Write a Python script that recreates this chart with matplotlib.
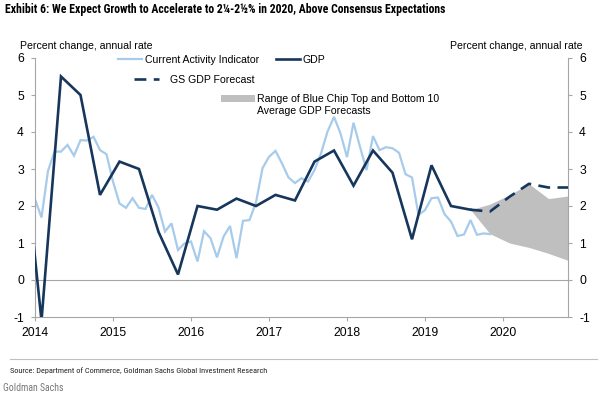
import matplotlib
matplotlib.use("Agg")
import matplotlib.pyplot as plt
from matplotlib.lines import Line2D
from matplotlib.patches import Patch
from matplotlib import font_manager
from matplotlib.font_manager import FontProperties

# ---------------- data ----------------
cai_start = (2014, 1)  # first month of Current Activity Indicator
cai_values = [
    2.18, 1.69, 2.95, 3.47, 3.47, 3.65, 3.36, 3.78, 3.77, 3.87, 3.51, 3.40,   # 2014
    2.66, 2.07, 1.95, 2.21, 1.95, 1.92, 2.30, 1.96, 1.31, 1.53, 0.81, 0.99,   # 2015
    1.04, 0.50, 1.32, 1.13, 0.61, 1.17, 1.46, 0.59, 1.60, 1.62, 2.10, 3.02,   # 2016
    3.33, 3.49, 3.15, 2.77, 2.62, 2.75, 2.66, 2.97, 3.42, 4.01, 4.41, 3.96,   # 2017
    3.32, 4.25, 3.60, 2.97, 3.89, 3.51, 3.59, 3.56, 3.44, 2.86, 2.77, 1.76,   # 2018
    1.89, 2.21, 2.23, 1.78, 1.58, 1.19, 1.23, 1.62, 1.22, 1.26, 1.24,         # 2019
]

gdp_quarters = ["2013Q4",
                "2014Q1", "2014Q2", "2014Q3", "2014Q4",
                "2015Q1", "2015Q2", "2015Q3", "2015Q4",
                "2016Q1", "2016Q2", "2016Q3", "2016Q4",
                "2017Q1", "2017Q2", "2017Q3", "2017Q4",
                "2018Q1", "2018Q2", "2018Q3", "2018Q4",
                "2019Q1", "2019Q2", "2019Q3"]
gdp_values = [4.0,
              -1.1, 5.5, 5.0, 2.3,
              3.2, 3.0, 1.3, 0.15,
              2.0, 1.9, 2.2, 2.0,
              2.3, 2.15, 3.2, 3.5,
              2.55, 3.5, 2.9, 1.1,
              3.1, 2.0, 1.9]

fc_quarters = ["2019Q3", "2019Q4", "2020Q1", "2020Q2", "2020Q3", "2020Q4"]
gs_forecast = [1.9, 1.85, 2.25, 2.6, 2.5, 2.5]
bluechip_top = [1.9, 2.05, 2.3, 2.6, 2.2, 2.27]
bluechip_bottom = [1.9, 1.25, 1.0, 0.88, 0.72, 0.53]

year_ticks = [2014, 2015, 2016, 2017, 2018, 2019, 2020]
y_ticks = [-1, 0, 1, 2, 3, 4, 5, 6]

title = "Exhibit 6: We Expect Growth to Accelerate to 2\u00bc-2\u00bd% in 2020, Above Consensus Expectations"
source = "Source: Department of Commerce, Goldman Sachs Global Investment Research"


# ---------------- helpers ----------------
def month_pos(year, month):
    return year + (month - 1) / 12.0


def quarter_pos(q):
    y, qq = int(q[:4]), int(q[-1])
    return month_pos(y, 3 * qq - 1)  # middle month of quarter


cai_x = []
y0, m0 = cai_start
for i in range(len(cai_values)):
    m = m0 - 1 + i
    cai_x.append(month_pos(y0 + m // 12, m % 12 + 1))
gdp_x = [quarter_pos(q) for q in gdp_quarters]
fc_x = [quarter_pos(q) for q in fc_quarters]

# ---------------- fonts ----------------
plt.rcParams["font.family"] = ["Liberation Sans", "DejaVu Sans"]
plt.rcParams["axes.unicode_minus"] = False

NARROW_PREF = ["Liberation Sans Narrow", "Arial Narrow", "Roboto Condensed", "PT Sans Narrow",
               "Archivo Narrow", "Open Sans Condensed", "Asap Condensed", "Barlow Semi Condensed",
               "DejaVu Sans"]


def pick(weight):
    fl = font_manager.fontManager.ttflist
    for fam in NARROW_PREF:
        cands = []
        for f in fl:
            if f.name != fam:
                continue
            if "italic" in str(f.style) or "oblique" in str(f.style):
                continue
            if fam == "DejaVu Sans" and str(f.stretch) != "condensed":
                continue
            w = f.weight if isinstance(f.weight, int) else (700 if "bold" in str(f.weight) else 400)
            variable = "[" in f.fname
            cands.append((abs(w - weight) + (50 if variable else 0), f.fname))
        if cands:
            cands.sort()
            return cands[0][1]
    return None


nb = pick(700)
nr = pick(400)
title_fp = FontProperties(fname=nb) if nb else FontProperties(family="Liberation Sans", weight="bold")
src_fp = FontProperties(fname=nr) if nr else FontProperties(family="Liberation Sans")

LIGHT = "#A6CBEB"
NAVY = "#16365C"
GREY = "#BFBFBF"
AX = "#A6A6A6"
FS = 7.6

fig = plt.figure(figsize=(6.04, 3.98), dpi=100)
ax = fig.add_axes([35 / 604, 1 - 317 / 398, (568 - 35) / 604, (317 - 58) / 398])

ax.fill_between(fc_x, bluechip_bottom, bluechip_top, color=GREY, lw=0, zorder=1)
ax.axhline(0, color=AX, lw=0.8, zorder=1.5)
ax.plot(cai_x, cai_values, color=LIGHT, lw=1.6, zorder=2, solid_joinstyle="miter")
ax.plot(gdp_x, gdp_values, color=NAVY, lw=1.9, zorder=3, solid_joinstyle="miter")
ax.plot(fc_x, gs_forecast, color=NAVY, lw=1.9, zorder=3, dashes=(4.5, 2.8))

ax.set_xlim(2014, quarter_pos("2020Q4"))
ax.set_ylim(-1, 6)
ax.set_xticks(year_ticks)
ax.set_xticklabels([str(y) for y in year_ticks])
ax.set_yticks(y_ticks)

ax.spines["top"].set_visible(False)
for s in ["left", "right", "bottom"]:
    ax.spines[s].set_color(AX)
    ax.spines[s].set_linewidth(0.8)
ax.tick_params(axis="both", which="both", direction="out", length=3, width=0.8,
               color=AX, labelsize=8.7, labelcolor="#000000")
ax.tick_params(axis="x", pad=4)
ax.tick_params(axis="y", left=True, right=True, labelleft=True, labelright=True, pad=5)

fig.text(20 / 604, 1 - 46 / 398, "Percent change, annual rate", fontsize=FS, va="center", ha="left")
fig.text(583 / 604, 1 - 46 / 398, "Percent change, annual rate", fontsize=FS, va="center", ha="right")

# legends
leg1 = ax.legend(handles=[Line2D([], [], color=LIGHT, lw=1.6), Line2D([], [], color=NAVY, lw=1.9)],
                 labels=["Current Activity Indicator", "GDP"], ncol=2, frameon=False,
                 fontsize=FS, handlelength=2.3, handletextpad=0.25, columnspacing=1.6,
                 borderpad=0, borderaxespad=0,
                 loc="center left", bbox_to_anchor=(118 / 604, 1 - 60 / 398),
                 bbox_transform=fig.transFigure)
ax.add_artist(leg1)
leg2 = ax.legend(handles=[Line2D([], [], color=NAVY, lw=1.9, dashes=(4.5, 2.8))],
                 labels=["GS GDP Forecast"], frameon=False, fontsize=FS,
                 handlelength=2.4, handletextpad=1.0, borderpad=0, borderaxespad=0,
                 loc="center left", bbox_to_anchor=(134 / 604, 1 - 80 / 398),
                 bbox_transform=fig.transFigure)
ax.add_artist(leg2)
leg3 = ax.legend(handles=[Patch(color=GREY, lw=0)],
                 labels=["Range of Blue Chip Top and Bottom 10"],
                 frameon=False, fontsize=FS, handlelength=3.2, handleheight=0.6,
                 handletextpad=0.25, borderpad=0, borderaxespad=0,
                 loc="center left", bbox_to_anchor=(221 / 604, 1 - 99 / 398),
                 bbox_transform=fig.transFigure)
fig.text(257 / 604, 1 - 111.5 / 398, "Average GDP Forecasts", fontsize=FS, va="center", ha="left")

# title / footer
t_title = fig.text(5 / 604, 1 - 10 / 398, title, fontproperties=title_fp, fontsize=9.5,
                   va="center", ha="left")
fig.add_artist(Line2D([10 / 604, 597 / 604], [1 - 359 / 398, 1 - 359 / 398],
                      color="#BFBFBF", lw=0.8, transform=fig.transFigure))
t_src = fig.text(10 / 604, 1 - 371 / 398, source, fontproperties=src_fp, fontsize=6.6,
                 va="center", ha="left", color="#222222")
t_gs = fig.text(3 / 604, 1 - 388 / 398, "Goldman Sachs", fontproperties=src_fp, fontsize=7.0,
                va="center", ha="left", color="#777777")

renderer = fig.canvas.get_renderer()
for t, target in [(t_title, 445.0), (t_src, 258.0), (t_gs, 61.0)]:
    w = t.get_window_extent(renderer).width
    if w > 0:
        t.set_fontsize(t.get_fontsize() * target / w)

fig.savefig("out.png", dpi=100)
